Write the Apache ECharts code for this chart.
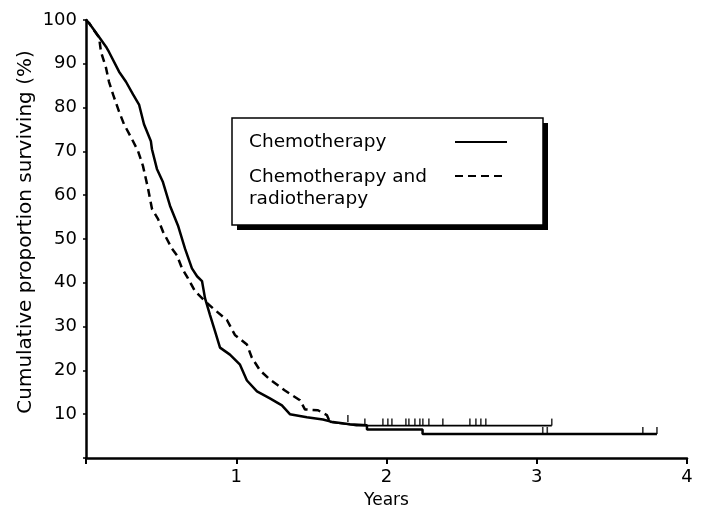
<!DOCTYPE html>
<html>
<head>
<meta charset="utf-8">
<script src="https://cdn.jsdelivr.net/npm/echarts@6/dist/echarts.min.js"></script>
<style>
  html, body { margin: 0; background: #fff; }
  #chart { width: 701px; height: 514px; }
</style>
</head>
<body>
<div id="chart"></div>
<script>
// survival curves (years, % surviving)
var chemoYears = [0, 0.02, 0.087, 0.133, 0.153, 0.22, 0.266, 0.313, 0.353, 0.386, 0.432, 0.439, 0.472, 0.512,
  0.559, 0.612, 0.659, 0.705, 0.739, 0.772, 0.792, 0.825, 0.858, 0.892, 0.958, 1.025, 1.071, 1.138, 1.224,
  1.304, 1.357, 1.47, 1.577, 1.643, 1.756, 1.87, 1.87, 2.24, 2.24, 3.8];
var chemoPct = [100, 99.3, 96.1, 93.9, 92.7, 88.2, 85.9, 83.0, 80.7, 76.2, 72.3, 70.5, 66.0, 63.0,
  57.6, 53.1, 47.8, 43.3, 41.5, 40.4, 36.5, 32.7, 29.0, 25.2, 23.6, 21.3, 17.7, 15.2, 13.6,
  12.0, 10.0, 9.3, 8.8, 8.2, 7.7, 7.5, 6.5, 6.5, 5.5, 5.5];

var radioYears = [0, 0.02, 0.087, 0.1, 0.133, 0.153, 0.18, 0.22, 0.253, 0.3, 0.346, 0.379, 0.413, 0.439,
  0.479, 0.512, 0.572, 0.605, 0.639, 0.679, 0.725, 0.805, 0.858, 0.938, 0.991, 1.071, 1.104, 1.158,
  1.224, 1.277, 1.324, 1.424, 1.457, 1.544, 1.603, 1.623, 1.75, 1.8, 3.1];
var radioPct = [100, 99.3, 96.0, 92.7, 89.1, 85.9, 83.0, 79.1, 76.2, 73.2, 70.1, 66.7, 61.5, 56.9,
  54.6, 51.7, 47.8, 46.3, 43.3, 41.0, 38.1, 35.4, 33.8, 31.5, 28.1, 25.9, 22.9, 20.0,
  17.9, 16.6, 15.4, 13.2, 11.1, 10.9, 9.8, 8.2, 7.7, 7.4, 7.4];
var radioDashEnd = 1.623; // the flat tail is printed as a solid line

// censored observations (years)
var chemoCensor = [3.04, 3.07, 3.706, 3.8];
var radioCensor = [1.743, 1.856, 1.976, 2.009, 2.036, 2.129, 2.149, 2.189, 2.222, 2.242, 2.282, 2.375,
  2.555, 2.595, 2.628, 2.661, 3.1];

var xTicks = ['', '1', '2', '3', '4'];
var yTicks = ['', '10', '20', '30', '40', '50', '60', '70', '80', '90', '100'];

function pairs(xs, ys) {
  var out = [];
  for (var i = 0; i < xs.length; i++) out.push([xs[i], ys[i]]);
  return out;
}
function valueAt(xs, ys, t) {
  var v = ys[0];
  for (var i = 0; i < xs.length; i++) if (xs[i] <= t) v = ys[i];
  return v;
}
function censorPoints(times, xs, ys) {
  return times.map(function (t) { return [t, valueAt(xs, ys, t)]; });
}

var radioAll = pairs(radioYears, radioPct);
var radioDash = radioAll.filter(function (p) { return p[0] <= radioDashEnd; });
var radioTail = radioAll.filter(function (p) { return p[0] >= radioDashEnd; });

var font = 'DejaVu Sans';
var legendFont = '18.5px "DejaVu Sans"';
var myChart = echarts.init(document.getElementById('chart'));

var option = {
  backgroundColor: '#fff',
  animation: false,
  grid: { left: 86, top: 20, right: 14, bottom: 53 },
  xAxis: {
    type: 'value', min: 0, max: 4, interval: 1,
    name: 'Years', nameLocation: 'middle', nameGap: 34,
    nameTextStyle: { color: '#000', fontFamily: font, fontSize: 17 },
    axisLine: { lineStyle: { color: '#000', width: 2.5 } },
    axisTick: { length: 6, lineStyle: { color: '#000', width: 2 } },
    axisLabel: { color: '#000', fontFamily: font, fontSize: 18, margin: 10,
      formatter: function (v) { return xTicks[v]; } },
    splitLine: { show: false }
  },
  yAxis: {
    type: 'value', min: 0, max: 100, interval: 10,
    axisLine: { show: true, lineStyle: { color: '#000', width: 2.5 } },
    axisTick: { show: true, length: 3, lineStyle: { color: '#000', width: 1.5 } },
    axisLabel: { color: '#000', fontFamily: font, fontSize: 18, margin: 9,
      formatter: function (v) { return yTicks[v / 10]; } },
    splitLine: { show: false }
  },
  graphic: [
    { type: 'text', x: 26, y: 232, rotation: Math.PI / 2,
      style: { text: 'Cumulative proportion surviving (%)', fill: '#000', font: '20px "DejaVu Sans"',
        align: 'center', verticalAlign: 'middle' } },
    { type: 'rect', shape: { x: 237, y: 123, width: 311, height: 107 }, style: { fill: '#000' } },
    { type: 'rect', shape: { x: 232, y: 118, width: 311, height: 107 },
      style: { fill: '#fff', stroke: '#000', lineWidth: 1.5 } },
    { type: 'text', x: 249, y: 142,
      style: { text: 'Chemotherapy', fill: '#000', font: legendFont, verticalAlign: 'middle' } },
    { type: 'text', x: 249, y: 177,
      style: { text: 'Chemotherapy and', fill: '#000', font: legendFont, verticalAlign: 'middle' } },
    { type: 'text', x: 249, y: 199,
      style: { text: 'radiotherapy', fill: '#000', font: legendFont, verticalAlign: 'middle' } },
    { type: 'line', shape: { x1: 455, y1: 142, x2: 507, y2: 142 }, style: { stroke: '#000', lineWidth: 2 } },
    { type: 'line', shape: { x1: 455, y1: 176, x2: 507, y2: 176 },
      style: { stroke: '#000', lineWidth: 2, lineDash: [8, 5] } }
  ],
  series: [
    {
      name: 'Chemotherapy', type: 'line', symbol: 'none',
      data: pairs(chemoYears, chemoPct),
      lineStyle: { color: '#000', width: 2.5 }
    },
    {
      name: 'Chemotherapy and radiotherapy', type: 'line', symbol: 'none',
      data: radioDash,
      lineStyle: { color: '#000', width: 2.5, type: [8, 5] }
    },
    {
      name: 'Chemotherapy and radiotherapy tail', type: 'line', symbol: 'none',
      data: radioTail,
      lineStyle: { color: '#000', width: 1.8 }
    },
    {
      name: 'Censored', type: 'scatter', symbol: 'rect',
      symbolSize: [1.6, 7], symbolOffset: [0, -3.5],
      itemStyle: { color: '#000' },
      data: censorPoints(chemoCensor, chemoYears, chemoPct)
        .concat(censorPoints(radioCensor, radioYears, radioPct))
    }
  ]
};

myChart.setOption(option);
</script>
</body>
</html>
